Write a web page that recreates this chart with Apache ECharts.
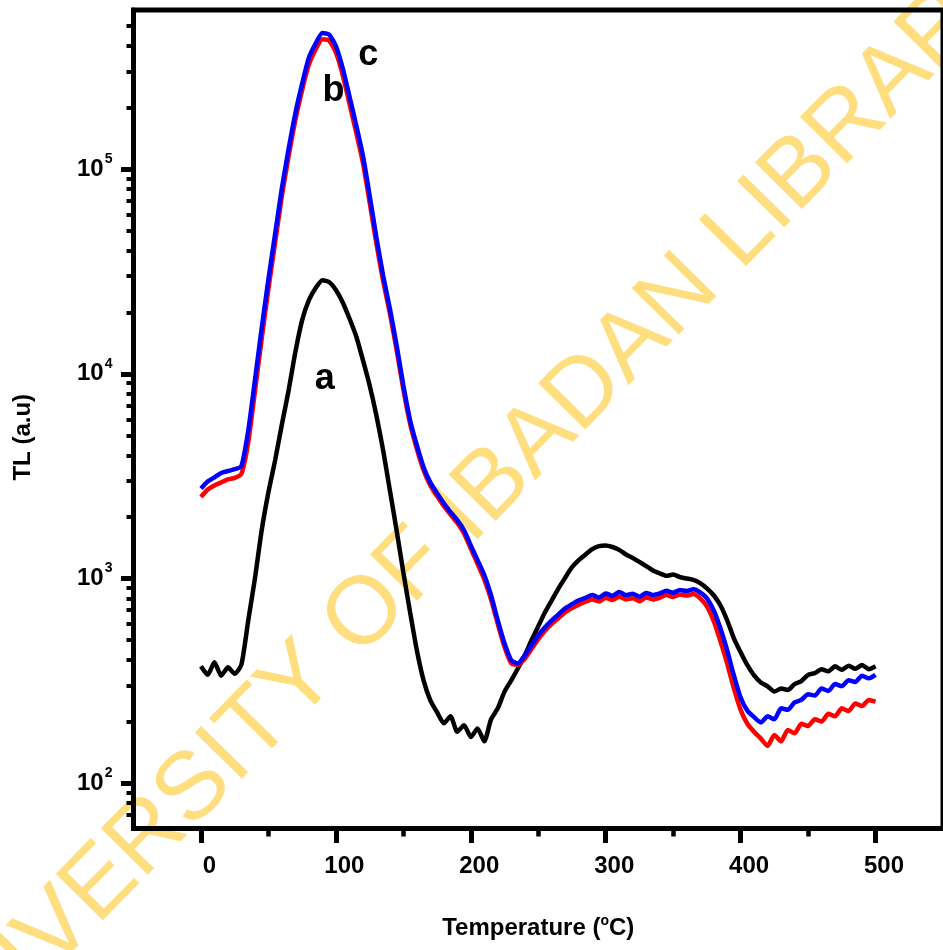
<!DOCTYPE html>
<html>
<head>
<meta charset="utf-8">
<script src="https://cdn.jsdelivr.net/npm/echarts@6/dist/echarts.min.js"></script>
<style>
  html, body { margin: 0; padding: 0; background: #fff; }
  #chart { width: 943px; height: 950px; }
</style>
</head>
<body>
<div id="chart"></div>
<script>
// Temperature (°C) of each reading
const temperature = [
  0, 5, 10, 15, 20, 25, 30, 35, 40, 45, 50, 55, 60, 65, 70, 75, 80, 85, 90, 95,
  100, 105, 110, 115, 120, 125, 130, 135, 140, 145, 150, 155, 160, 165, 170, 175, 180, 185, 190, 195,
  200, 205, 210, 215, 220, 225, 230, 235, 240, 245, 250, 255, 260, 265, 270, 275, 280, 285, 290, 295,
  300, 305, 310, 315, 320, 325, 330, 335, 340, 345, 350, 355, 360, 365, 370, 375, 380, 385, 390, 395,
  400, 405, 410, 415, 420, 425, 430, 435, 440, 445, 450, 455, 460, 465, 470, 475, 480, 485, 490, 495,
  500
];

// TL glow curve (a.u), sample a
const curveA = [
  372, 338, 390, 335, 368, 342, 380, 620, 1000, 1720, 2640, 3790, 5670, 8320, 12800, 18300, 22900, 26300, 28700, 28100,
  25700, 22400, 18700, 15300, 11700, 8800, 6280, 4240, 2700, 1720, 1070, 684, 446, 318, 254, 222, 196, 212, 178, 192,
  168, 185, 160, 205, 232, 280, 318, 364, 421, 499, 584, 684, 782, 895, 1010, 1135, 1230, 1310, 1390, 1440,
  1450, 1425, 1380, 1310, 1260, 1205, 1150, 1095, 1060, 1030, 1045, 1015, 1000, 985, 950, 895, 828, 740, 625, 510,
  436, 377, 336, 310, 297, 280, 290, 285, 305, 315, 338, 345, 360, 352, 372, 358, 375, 362, 378, 360,
  372
];

// TL glow curve (a.u), sample b
const curveB = [
  2500, 2720, 2850, 2950, 3050, 3100, 3250, 4600, 8200, 14800, 26000, 44000, 74000, 116000, 174000, 244000, 325000, 385000, 432000, 425000,
  372000, 290000, 210000, 152000, 108000, 69000, 43500, 28500, 19800, 13100, 8400, 5700, 4300, 3380, 2850, 2530, 2260, 2050, 1870, 1660,
  1400, 1180, 990, 790, 600, 462, 385, 378, 405, 452, 505, 555, 600, 640, 685, 718, 745, 770, 790, 772,
  805, 785, 815, 790, 800, 775, 808, 790, 805, 830, 812, 835, 825, 840, 800, 730, 620, 495, 385, 290,
  228, 195, 178, 165, 152, 172, 160, 182, 175, 195, 190, 205, 200, 218, 212, 232, 225, 245, 238, 255,
  250
];

// TL glow curve (a.u), sample c
const curveC = [
  2750, 2980, 3120, 3280, 3350, 3420, 3550, 5250, 9300, 16700, 29000, 48500, 81000, 126000, 188000, 262000, 351000, 411000, 463000, 455000,
  400000, 313000, 228000, 165000, 117000, 74600, 46600, 30300, 20900, 13800, 8800, 5940, 4480, 3500, 2950, 2610, 2330, 2110, 1930, 1720,
  1450, 1230, 1040, 828, 625, 482, 398, 385, 421, 471, 527, 577, 625, 668, 715, 748, 782, 805, 830, 808,
  845, 822, 860, 828, 842, 815, 850, 830, 845, 870, 852, 878, 868, 885, 855, 800, 700, 571, 446, 336,
  262, 226, 210, 198, 212, 205, 232, 228, 248, 255, 272, 268, 290, 282, 305, 298, 318, 312, 335, 325,
  338
];

// Curve letters and where they sit (temperature, TL)
const curveLetters = ['a', 'b', 'c'];
const letterTemp = [91.7, 98.3, 124];
const letterTL = [9420, 241000, 361000];

// Axis ticks
const xTickValues = [0, 100, 200, 300, 400, 500];
const xMinorValues = [50, 150, 250, 350, 450];
const yTickValues = [100, 1000, 10000, 100000];
const yMinorValues = [
  70, 80, 90,
  200, 300, 400, 500, 600, 700, 800, 900,
  2000, 3000, 4000, 5000, 6000, 7000, 8000, 9000,
  20000, 30000, 40000, 50000, 60000, 70000, 80000, 90000,
  200000, 300000, 400000, 500000
];

const SANS = "'Liberation Sans',Arial,Helvetica,sans-serif";

const pairs = (vals) => temperature.map((t, i) => [t, vals[i]]);

const chart = echarts.init(document.getElementById('chart'), null, { renderer: 'canvas', width: 943, height: 950 });

const lineSeries = (name, vals, color) => ({
  name: name,
  type: 'line',
  data: pairs(vals),
  showSymbol: false,
  smooth: 0.2,
  lineStyle: { color: color, width: 4.5 },
  itemStyle: { color: color },
  emphasis: { disabled: true }
});

const option = {
  animation: false,
  backgroundColor: '#fff',
  grid: {
    left: 133.5, top: 10, width: 818, height: 818.5,
    show: true, borderColor: '#000', borderWidth: 5, backgroundColor: 'transparent'
  },
  graphic: [{
    type: 'text',
    x: 463, y: 516,
    rotation: 0.794,
    z: -10,
    silent: true,
    style: {
      text: 'UNIVERSITY OF IBADAN LIBRARY',
      font: "normal 96px 'Liberation Sans', Arial, sans-serif",
      fill: '#FFDE80',
      textAlign: 'center',
      textVerticalAlign: 'middle'
    }
  }],
  xAxis: [
    {
      type: 'value', min: -50, max: 550, position: 'bottom',
      splitLine: { show: false },
      axisLine: { onZero: false, lineStyle: { color: '#000', width: 5 } },
      axisTick: { show: true, customValues: xTickValues, length: 14.5, lineStyle: { color: '#000', width: 5 } },
      axisLabel: {
        customValues: xTickValues,
        color: '#000', fontSize: 24, fontWeight: 'bold', fontFamily: SANS,
        margin: 26, padding: [0, 0, 0, 17]
      },
      name: '{n|Temperature (}{s|o}{n|C)}',
      nameLocation: 'middle',
      nameGap: 86,
      nameTextStyle: {
        rich: {
          n: { fontSize: 24, fontWeight: 'bold', fontFamily: SANS, color: '#000' },
          s: { fontSize: 14, fontWeight: 'bold', fontFamily: SANS, color: '#000', padding: [0, 0, 13, 0] }
        }
      }
    },
    {
      type: 'value', min: -50, max: 550, position: 'bottom',
      splitLine: { show: false },
      axisLine: { show: false, onZero: false },
      axisTick: { show: true, customValues: xMinorValues, length: 8, lineStyle: { color: '#000', width: 4.5 } },
      axisLabel: { show: false }
    }
  ],
  yAxis: [
    {
      type: 'log', logBase: 10, min: 60, max: 600000, position: 'left',
      splitLine: { show: false },
      axisLine: { onZero: false, lineStyle: { color: '#000', width: 5 } },
      axisTick: { show: true, customValues: yTickValues, length: 12.5, lineStyle: { color: '#000', width: 5 } },
      axisLabel: {
        customValues: yTickValues,
        margin: 21,
        formatter: (v) => '{b|10}{s|' + Math.round(Math.log10(v)) + '}',
        rich: {
          b: { fontSize: 24, fontWeight: 'bold', fontFamily: SANS, color: '#000' },
          s: { fontSize: 14, fontWeight: 'bold', fontFamily: SANS, color: '#000', padding: [0, 0, 20, 1] }
        }
      },
      name: 'TL (a.u)',
      nameLocation: 'middle',
      nameRotate: 90,
      nameGap: 98,
      nameTextStyle: { fontSize: 24, fontWeight: 'bold', fontFamily: SANS, color: '#000', padding: [0, 36, 0, 0] }
    },
    {
      type: 'log', logBase: 10, min: 60, max: 600000, position: 'left',
      splitLine: { show: false },
      axisLine: { show: false, onZero: false },
      axisTick: { show: true, customValues: yMinorValues, length: 7, lineStyle: { color: '#000', width: 4 } },
      axisLabel: { show: false }
    }
  ],
  series: [
    lineSeries('a', curveA, '#000000'),
    lineSeries('b', curveB, '#FF0000'),
    lineSeries('c', curveC, '#0000FF'),
    {
      name: 'letters',
      type: 'scatter',
      data: letterTemp.map((t, i) => ({ value: [t, letterTL[i]], name: curveLetters[i] })),
      symbolSize: 0,
      silent: true,
      z: 5,
      itemStyle: { opacity: 1 },
      label: {
        show: true, position: 'inside', formatter: (p) => p.name, opacity: 1,
        color: '#000', fontSize: 36, fontWeight: 'bold', fontFamily: SANS
      }
    }
  ]
};

chart.setOption(option);
</script>
</body>
</html>
